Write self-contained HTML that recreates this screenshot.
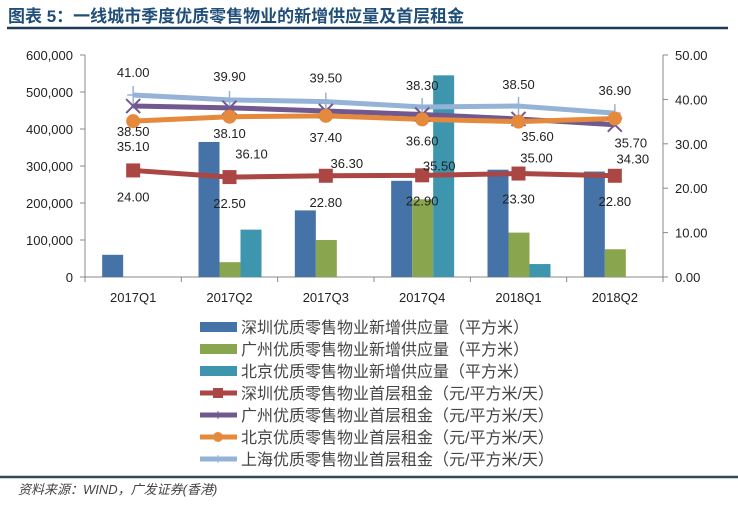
<!DOCTYPE html>
<html><head><meta charset="utf-8">
<style>
body{margin:0;background:#fff;width:738px;height:502px;overflow:hidden;font-family:"Liberation Sans","Noto Sans CJK SC",sans-serif;}
svg text{font-family:"Liberation Sans","Noto Sans CJK SC",sans-serif;}
</style></head>
<body>
<svg id="chart" width="738" height="502" xmlns="http://www.w3.org/2000/svg">
<text x="8" y="22" font-size="17" font-weight="bold" fill="#1f4e79">图表 5：一线城市季度优质零售物业的新增供应量及首层租金</text>
<line x1="7" y1="28" x2="728" y2="28" stroke="#1f3a5a" stroke-width="2.5"/>
<line x1="0" y1="477" x2="738" y2="477" stroke="#2c4a5a" stroke-width="2.5"/>
<text x="18" y="494" font-size="13" font-style="italic" fill="#444">资料来源：WIND，广发证券(香港)</text>
<g id="plot"></g>
</svg>
<script>
const categories=["2017Q1","2017Q2","2017Q3","2017Q4","2018Q1","2018Q2"];
const szSupply=[60000,365000,180000,260000,290000,285000];
const gzSupply=[0,40000,100000,210000,120000,75000];
const bjSupply=[0,128000,0,545000,35000,0];
const szRent=[24.0,22.5,22.8,22.9,23.3,22.8];
const gzRent=[38.5,38.1,37.4,36.6,35.6,34.3];
const bjRent=[35.1,36.1,36.3,35.5,35.0,35.7];
const shRent=[41.0,39.9,39.5,38.3,38.5,36.9];
const leftTicks=[0,100000,200000,300000,400000,500000,600000];
const rightTicks=[0,10,20,30,40,50];

const NS="http://www.w3.org/2000/svg";
const g=document.getElementById('plot');
const X0=85,X1=663,Y0=277,Y1=55;
const bw=(X1-X0)/categories.length;
const cx=i=>X0+bw*(i+0.5);
const yL=v=>Y0-(v/600000)*(Y0-Y1);
const yR=v=>Y0-(v/50)*(Y0-Y1);
function el(t,a){const e=document.createElementNS(NS,t);for(const k in a)e.setAttribute(k,a[k]);g.appendChild(e);return e;}
function fmt(v){return v.toLocaleString('en-US');}

// axes
let ax=el('line',{x1:X0,y1:Y1,x2:X0,y2:Y0,stroke:'#888'});

ax=el('line',{x1:X1,y1:Y1,x2:X1,y2:Y0,stroke:'#888'});

ax=el('line',{x1:X0,y1:Y0,x2:X1,y2:Y0,stroke:'#888'});

leftTicks.forEach(v=>{
  const t=el('line',{x1:X0-5,x2:X0,y1:yL(v),y2:yL(v),stroke:'#888'});
  
  const tx=el('text',{x:X0-12,y:yL(v)+5,'font-size':13,'text-anchor':'end',fill:'#222'});
  tx.textContent=fmt(v);
  
});
rightTicks.forEach(v=>{
  const t=el('line',{x1:X1,x2:X1+5,y1:yR(v),y2:yR(v),stroke:'#888'});
  
  const tx=el('text',{x:X1+12,y:yR(v)+5,'font-size':13,fill:'#222'});
  tx.textContent=v.toFixed(2);
  
});
for(let i=0;i<=categories.length;i++){
  const t=el('line',{x1:X0+bw*i,x2:X0+bw*i,y1:Y0,y2:Y0+5,stroke:'#888'});
  
}
categories.forEach((c,i)=>{
  const tx=el('text',{x:cx(i),y:Y0+25,'font-size':13,'text-anchor':'middle',fill:'#222'});
  tx.textContent=c;
  
});
// bars
const barW=21;
[[szSupply,'#4572a7','bar-shenzhen'],[gzSupply,'#89a54e','bar-guangzhou'],[bjSupply,'#3d96ae','bar-beijing']].forEach((s,k)=>{
  s[0].forEach((v,i)=>{
    if(v<=0)return;
    const r=el('rect',{x:cx(i)-31+k*barW,y:yL(v),width:barW,height:Y0-yL(v),fill:s[1]});
    
  });
});
// lines
function line(data,color,name,w){
  const p=el('polyline',{points:data.map((v,i)=>cx(i)+','+yR(v)).join(' '),fill:'none',stroke:color,'stroke-width':w,'stroke-linejoin':'round'});
  
}
line(shRent,'#95b3d7','line-shanghai',5);
line(gzRent,'#71588f','line-guangzhou',5);
line(bjRent,'#e58a3c','line-beijing',5);
line(szRent,'#aa4643','line-shenzhen',5);
shRent.forEach((v,i)=>{
  const m=el('path',{d:`M${cx(i)} ${yR(v)-9}V${yR(v)+9}M${cx(i)-6} ${yR(v)}H${cx(i)+6}`,stroke:'#95b3d7','stroke-width':1.5});
  
});
gzRent.forEach((v,i)=>{
  const m=el('path',{d:`M${cx(i)-7} ${yR(v)-7}L${cx(i)+7} ${yR(v)+7}M${cx(i)-7} ${yR(v)+7}L${cx(i)+7} ${yR(v)-7}`,stroke:'#71588f','stroke-width':2});
  
});
bjRent.forEach((v,i)=>{
  const m=el('circle',{cx:cx(i),cy:yR(v),r:7,fill:'#e58a3c'});
  
});
szRent.forEach((v,i)=>{
  const m=el('rect',{x:cx(i)-7,y:yR(v)-7,width:14,height:14,fill:'#aa4643'});
  
});
// data labels (offsets are layout only)
const offSh=[[0,-23],[0,-24],[0,-24],[0,-22],[0,-22],[0,-23]];
const offGz=[[0,25],[0,25],[0,26],[0,26],[19,17],[18,34]];
const offBj=[[0,25],[22,37],[21,47],[17,46],[18,36],[16,24]];
const offSz=[[0,26],[0,26],[0,26],[0,25],[0,25],[0,25]];
function labels(data,off,name){
  data.forEach((v,i)=>{
    const t=el('text',{x:cx(i)+off[i][0],y:yR(v)+off[i][1]+5,'font-size':13,'text-anchor':'middle',fill:'#222'});
    t.textContent=v.toFixed(2);
    
  });
}
labels(shRent,offSh,'label-shanghai');
labels(gzRent,offGz,'label-guangzhou');
labels(bjRent,offBj,'label-beijing');
labels(szRent,offSz,'label-shenzhen');
// legend
const legNames=["深圳优质零售物业新增供应量（平方米）","广州优质零售物业新增供应量（平方米）","北京优质零售物业新增供应量（平方米）","深圳优质零售物业首层租金（元/平方米/天）","广州优质零售物业首层租金（元/平方米/天）","北京优质零售物业首层租金（元/平方米/天）","上海优质零售物业首层租金（元/平方米/天）"];
const legColors=['#4572a7','#89a54e','#3d96ae','#aa4643','#71588f','#e58a3c','#95b3d7'];
legNames.forEach((n,k)=>{
  const y=327+k*22;
  let s;
  if(k<3){s=el('rect',{x:200,y:y-5,width:37,height:10,fill:legColors[k]});}
  else{
    s=el('line',{x1:200,x2:237,y1:y,y2:y,stroke:legColors[k],'stroke-width':5});
    const m=k===3?el('rect',{x:213,y:y-5,width:10,height:10,fill:legColors[k]}):k===5?el('circle',{cx:218,cy:y,r:5,fill:legColors[k]}):el('line',{x1:218,x2:218,y1:y-4,y2:y+4,stroke:legColors[k]});
    
  }
  
  const t=el('text',{x:241,y:y+6,'font-size':16,fill:'#444'});
  t.textContent=n;
  
});
</script>
</body></html>
